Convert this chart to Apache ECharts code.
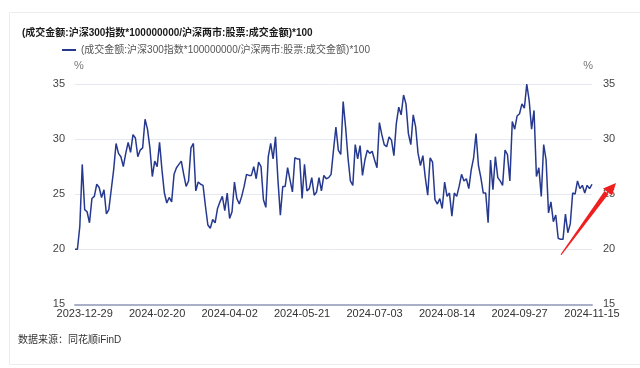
<!DOCTYPE html>
<html>
<head>
<meta charset="utf-8">
<script src="https://cdn.jsdelivr.net/npm/echarts@6/dist/echarts.min.js"></script>
<style>
html,body{margin:0;padding:0;background:#fff;}
#chart{width:640px;height:368px;}
</style>
</head>
<body>
<div id="chart"></div>
<script>
// ---- data ----
var seriesName = '(成交金额:沪深300指数*100000000/沪深两市:股票:成交金额)*100';
var titleText = '(成交金额:沪深300指数*100000000/沪深两市:股票:成交金额)*100';
var sourceText = '数据来源：同花顺iFinD';
var startDate = '2023-12-25';
var endDate = '2024-11-15';
var holidays = ['2024-01-01','2024-02-09','2024-02-12','2024-02-13','2024-02-14','2024-02-15','2024-02-16',
  '2024-04-04','2024-04-05','2024-05-01','2024-05-02','2024-05-03','2024-06-10','2024-09-16','2024-09-17',
  '2024-10-01','2024-10-02','2024-10-03','2024-10-04','2024-10-07'];
var tickLabels = ['2023-12-29','2024-02-20','2024-04-02','2024-05-21','2024-07-03','2024-08-14','2024-09-27','2024-11-15'];
var values = [
  20.0,20.0,22.1,27.7,23.6,23.4,22.4,24.6,24.8,25.9,
  25.6,24.7,25.4,23.2,23.6,25.4,27.2,29.6,28.7,28.4,
  27.5,28.7,29.7,28.8,30.4,30.1,28.4,29.0,29.2,31.8,
  30.9,29.2,26.6,28.0,27.5,29.7,27.2,25.1,24.2,24.7,
  24.3,26.8,27.4,27.7,28.0,26.8,25.7,26.2,29.2,29.6,
  25.3,26.1,25.9,25.8,23.9,22.2,21.9,22.7,22.4,23.7,
  24.3,24.8,23.5,25.1,22.8,23.4,26.1,24.6,24.1,24.8,
  25.7,26.8,26.7,26.7,27.5,26.4,27.9,27.5,24.5,23.8,
  28.4,29.6,28.2,30.2,26.3,23.1,25.7,25.7,27.4,26.3,
  25.2,28.3,28.2,28.2,24.6,27.7,25.3,25.5,26.5,24.9,
  25.2,26.5,25.3,26.7,26.4,26.5,26.8,29.0,31.1,29.0,
  28.6,33.4,31.1,28.3,26.2,25.8,29.5,28.2,29.4,26.7,
  28.1,29.0,28.7,28.9,28.1,27.4,31.5,30.4,29.5,29.3,
  30.2,29.9,28.5,31.4,32.9,32.2,34.0,33.2,30.5,29.5,
  32.2,31.1,28.7,27.6,28.5,26.5,24.9,28.3,27.9,24.5,
  24.1,24.6,23.7,26.1,24.8,25.1,23.0,25.1,24.8,25.7,
  26.8,26.2,26.4,25.5,27.2,28.3,30.5,27.6,26.5,25.1,
  25.1,22.4,28.1,25.4,28.4,26.5,26.2,25.8,29.0,28.6,
  26.2,31.6,30.9,32.1,32.3,33.2,32.8,35.0,33.5,30.9,
  32.6,26.6,27.4,24.8,29.5,28.1,23.3,24.3,22.5,23.1,
  21.0,20.9,20.9,23.2,21.5,22.3,25.1,25.0,26.2,25.5,
  25.8,25.1,25.8,25.5,25.9
];
var yMin = 15, yMax = 35, yStep = 5;

// ---- trading-day categories ----
function fmt(d){var m=d.getUTCMonth()+1,dd=d.getUTCDate();return d.getUTCFullYear()+'-'+(m<10?'0':'')+m+'-'+(dd<10?'0':'')+dd;}
var categories = [];
(function(){
  var d = new Date(startDate+'T00:00:00Z'), e = new Date(endDate+'T00:00:00Z');
  while (d <= e) {
    var wd = d.getUTCDay(), s = fmt(d);
    if (wd !== 0 && wd !== 6 && holidays.indexOf(s) < 0) categories.push(s);
    d = new Date(d.getTime() + 86400000);
  }
})();

var chart = echarts.init(document.getElementById('chart'));
var lblFont = "'Liberation Sans','Noto Sans CJK SC',sans-serif";
var mixFont = "'Liberation Sans','Noto Sans CJK SC',sans-serif";
function showTick(i){ return tickLabels.indexOf(categories[i]) >= 0; }

chart.setOption({
  animation: false,
  backgroundColor: '#fff',
  title: {
    text: titleText, left: 17, top: 23,
    textStyle: {fontFamily: mixFont, fontSize: 10, fontWeight: 'bold', color: '#1a1a1a'}
  },
  legend: {
    left: 57, top: 40, itemWidth: 14, itemHeight: 2, itemGap: 10,
    icon: 'rect',
    textStyle: {fontFamily: mixFont, fontSize: 10, color: '#555'},
    data: [seriesName]
  },
  grid: {left: 75, right: 48, top: 84, bottom: 63.7, containLabel: false},
  xAxis: {
    type: 'category', data: categories, boundaryGap: false,
    axisLine: {show: true, lineStyle: {color: '#a9b0c8', width: 2}},
    axisTick: {show: false},
    axisLabel: {interval: function(i){return showTick(i);}, color: '#333', fontSize: 11, margin: 4,
      fontFamily: lblFont},
    splitLine: {show: false}
  },
  yAxis: [
    {type: 'value', min: yMin, max: yMax, interval: yStep, position: 'left',
     name: '%', nameLocation: 'end', nameGap: 13,
     nameTextStyle: {color: '#777', fontSize: 11, fontFamily: lblFont, align: 'left', padding: [0,0,0,-1]},
     axisLine: {show: false}, axisTick: {show: false},
     axisLabel: {color: '#444', fontSize: 11, margin: 10, fontFamily: lblFont},
     splitLine: {lineStyle: {color: '#e6e8f0', width: 1}}},
    {type: 'value', min: yMin, max: yMax, interval: yStep, position: 'right',
     name: '%', nameLocation: 'end', nameGap: 13,
     nameTextStyle: {color: '#777', fontSize: 11, fontFamily: lblFont, align: 'right', padding: [0,-1,0,0]},
     axisLine: {show: false}, axisTick: {show: false},
     axisLabel: {color: '#444', fontSize: 11, margin: 11, fontFamily: lblFont},
     splitLine: {show: false}}
  ],
  series: [{
    name: seriesName, type: 'line', data: values, yAxisIndex: 0,
    symbol: 'none', smooth: false,
    lineStyle: {color: '#26398f', width: 1.5},
    itemStyle: {color: '#26398f'}
  }],
  graphic: [
    {type: 'rect', left: 7, top: 10, shape: {width: 640, height: 352}, silent: true, z: -10,
     style: {fill: 'none', stroke: '#ececf0', lineWidth: 1}},
    {type: 'text', left: 18, top: 335, silent: true,
     style: {text: sourceText, fill: '#333', font: "10px 'Liberation Sans','Noto Sans CJK SC', sans-serif"}},
    {type: 'polygon', silent: true, z: 100,
     shape: {points: [[560.5,254.5],[561.5,255],[608.5,194],[604.5,191]]},
     style: {fill: '#f01e1e'}},
    {type: 'polygon', silent: true, z: 100,
     shape: {points: [[616,183],[603,188.5],[612,195.5]]},
     style: {fill: '#f01e1e'}}
  ]
});
</script>
</body>
</html>
